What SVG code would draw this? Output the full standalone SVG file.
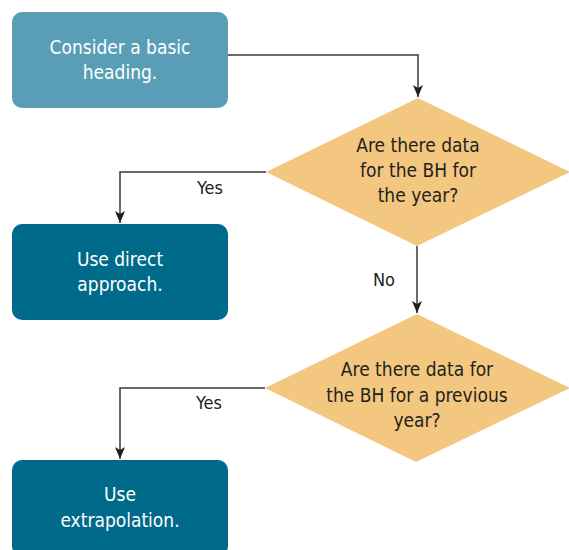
<svg xmlns="http://www.w3.org/2000/svg" width="569" height="550" viewBox="0 0 569 550">
  <style>
    .txt { font-family: "DejaVu Sans Condensed", "DejaVu Sans", sans-serif; font-size: 19px; text-anchor: middle; }
    .lbl { font-size: 18px; }
    .light { fill: #ffffff; }
    .dark { fill: #231f20; }
    .start { fill: #5a9db7; }
    .action { fill: #006a8a; }
    .decision { fill: #f3c77f; }
    .conn { fill: none; stroke: #3a3a3a; stroke-width: 1.5; }
  </style>
  <defs>
    <marker id="arrow" viewBox="0 0 12 10" refX="12" refY="5" markerWidth="12" markerHeight="10" markerUnits="userSpaceOnUse" orient="auto">
      <path d="M0,0 L12,5 L0,10 L3,5 Z" fill="#231f20"/>
    </marker>
  </defs>

  <g id="connectors">
    <path class="conn" d="M228,55 H418 V97" marker-end="url(#arrow)"/>
    <path class="conn" d="M266,172 H120 V223" marker-end="url(#arrow)"/>
    <path class="conn" d="M417,246 V313" marker-end="url(#arrow)"/>
    <path class="conn" d="M265,388 H120 V459" marker-end="url(#arrow)"/>
    <text class="txt lbl dark" x="210" y="194">Yes</text>
    <text class="txt lbl dark" x="384" y="286">No</text>
    <text class="txt lbl dark" x="209" y="409">Yes</text>
  </g>

  <g id="start">
    <rect class="start" x="12" y="12" width="216" height="96" rx="10"/>
    <text class="txt light" x="120" y="54">Consider a basic</text>
    <text class="txt light" x="120" y="79">heading.</text>
  </g>

  <g id="decision1">
    <polygon class="decision" points="418,98 570,172 417,246 266,172"/>
    <text class="txt dark" x="418" y="152">Are there data</text>
    <text class="txt dark" x="418" y="177">for the BH for</text>
    <text class="txt dark" x="418" y="202">the year?</text>
  </g>

  <g id="direct">
    <rect class="action" x="12" y="224" width="216" height="96" rx="10"/>
    <text class="txt light" x="120" y="266">Use direct</text>
    <text class="txt light" x="120" y="291">approach.</text>
  </g>

  <g id="decision2">
    <polygon class="decision" points="417,314 570,388 416,462 265,388"/>
    <text class="txt dark" x="417" y="376">Are there data for</text>
    <text class="txt dark" x="417" y="402">the BH for a previous</text>
    <text class="txt dark" x="417" y="427">year?</text>
  </g>

  <g id="extrapolation">
    <rect class="action" x="12" y="460" width="216" height="96" rx="10"/>
    <text class="txt light" x="120" y="501">Use</text>
    <text class="txt light" x="120" y="527">extrapolation.</text>
  </g>
</svg>
